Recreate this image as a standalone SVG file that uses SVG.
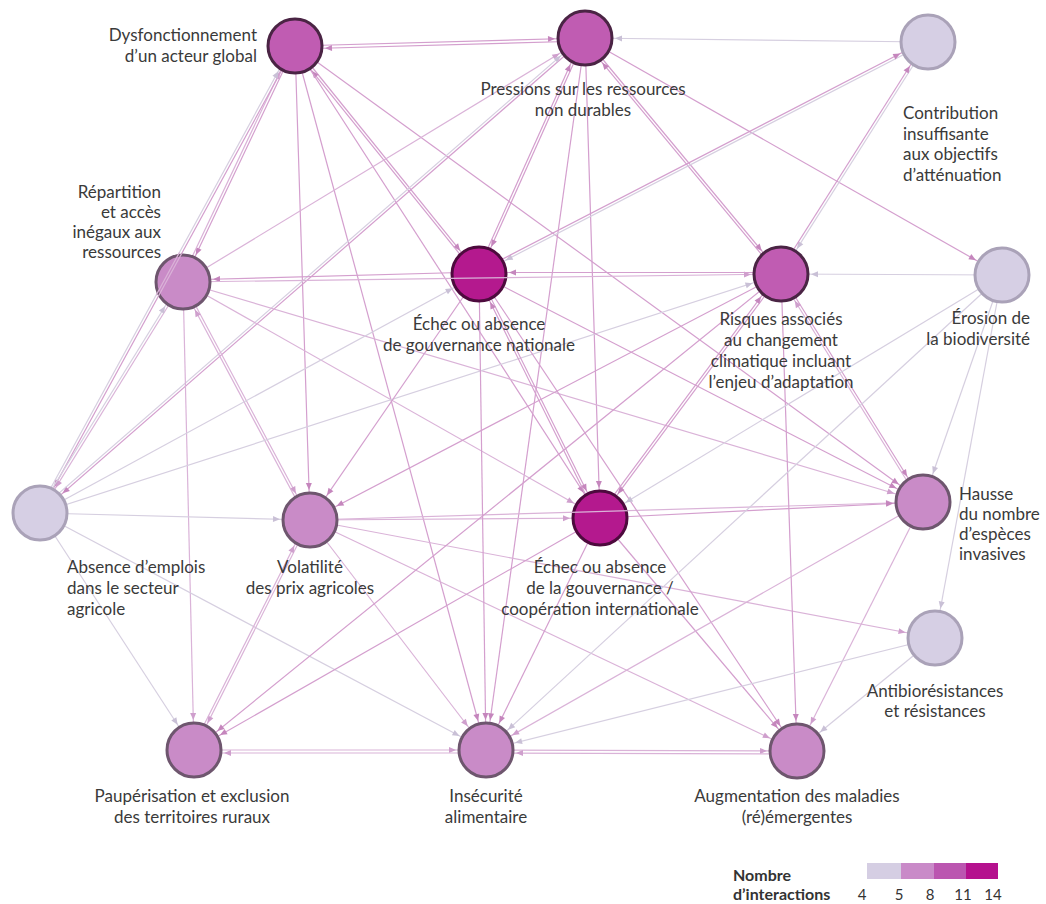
<svg xmlns="http://www.w3.org/2000/svg" width="1046" height="904" viewBox="0 0 1046 904">
<style>
.e1{stroke:#d6cfe0;stroke-width:1.2;fill:none;marker-end:url(#m1)}
.e2{stroke:#dab3d8;stroke-width:1.2;fill:none;marker-end:url(#m2)}
.e3{stroke:#d49fce;stroke-width:1.2;fill:none;marker-end:url(#m3)}
.ov{stroke:#dab3d8;stroke-width:1.2;fill:none}
.n1{fill:#d6cfe4;stroke:#aaa2b8;stroke-width:3}
.n2{fill:#c98bc7;stroke:#6e566e;stroke-width:3}
.n3{fill:#c05cb2;stroke:#4a2444;stroke-width:3}
.n4{fill:#b4198e;stroke:#4d0a3d;stroke-width:3}
text{font-family:Lato,"Open Sans","Liberation Sans",sans-serif;font-size:17px;fill:#3a3a3a}
.s{text-anchor:start}.m{text-anchor:middle}.r{text-anchor:end}
.lg{font-weight:bold;font-size:16px;fill:#333}
.num{font-size:15px;text-anchor:middle;fill:#333}
</style>
<defs>
<marker id="m1" markerUnits="userSpaceOnUse" markerWidth="7" markerHeight="6" refX="37" refY="3" orient="auto" overflow="visible"><path d="M0,0 L7,3 L0,6 z" fill="#c9c0d6"/></marker>
<marker id="m2" markerUnits="userSpaceOnUse" markerWidth="7" markerHeight="6" refX="37" refY="3" orient="auto" overflow="visible"><path d="M0,0 L7,3 L0,6 z" fill="#cf9fcd"/></marker>
<marker id="m3" markerUnits="userSpaceOnUse" markerWidth="7" markerHeight="6" refX="37" refY="3" orient="auto" overflow="visible"><path d="M0,0 L7,3 L0,6 z" fill="#c586bd"/></marker>
<clipPath id="clipE"><circle cx="479" cy="274" r="28.5"/></clipPath>
<clipPath id="clipJ"><circle cx="600" cy="518" r="28.5"/></clipPath>
<clipPath id="clipD"><circle cx="183" cy="282" r="28.5"/></clipPath>
</defs>
<rect width="1046" height="904" fill="#ffffff"/>
<g id="connectors">
<line class="e3" x1="295" y1="46" x2="585" y2="38"/>
<line class="e3" x1="585" y1="38" x2="295" y2="46" transform="translate(0,3)"/>
<line class="e1" x1="928" y1="42" x2="585" y2="38"/>
<line class="e3" x1="295" y1="46" x2="183" y2="282"/>
<line class="e2" x1="183" y1="282" x2="295" y2="46" transform="translate(-2.3,-1.1)"/>
<line class="e3" x1="295" y1="46" x2="40" y2="513"/>
<line class="e1" x1="40" y1="513" x2="295" y2="46" transform="translate(-2.2,-1.2)"/>
<line class="e3" x1="295" y1="46" x2="310" y2="520"/>
<line class="e3" x1="295" y1="46" x2="486" y2="750"/>
<line class="e3" x1="295" y1="46" x2="479" y2="274"/>
<line class="e3" x1="479" y1="274" x2="295" y2="46" transform="translate(-1.9,1.6)"/>
<line class="e3" x1="295" y1="46" x2="600" y2="518"/>
<line class="e3" x1="295" y1="46" x2="923" y2="502"/>
<line class="e2" x1="183" y1="282" x2="585" y2="38"/>
<line class="e3" x1="585" y1="38" x2="40" y2="513"/>
<line class="e1" x1="40" y1="513" x2="585" y2="38" transform="translate(-1.6,-1.9)"/>
<line class="e3" x1="585" y1="38" x2="479" y2="274"/>
<line class="e3" x1="479" y1="274" x2="585" y2="38" transform="translate(-2.3,-1)"/>
<line class="e3" x1="585" y1="38" x2="486" y2="750"/>
<line class="e3" x1="585" y1="38" x2="600" y2="518"/>
<line class="e3" x1="585" y1="38" x2="781" y2="274"/>
<line class="e3" x1="781" y1="274" x2="585" y2="38" transform="translate(-1.9,1.6)"/>
<line class="e3" x1="585" y1="38" x2="1002" y2="275"/>
<line class="e1" x1="928" y1="42" x2="781" y2="274"/>
<line class="e3" x1="781" y1="274" x2="928" y2="42" transform="translate(-2.1,-1.3)"/>
<line class="e1" x1="928" y1="42" x2="479" y2="274"/>
<line class="e3" x1="479" y1="274" x2="928" y2="42" transform="translate(-1.1,-2.2)"/>
<line class="e3" x1="479" y1="274" x2="183" y2="282" transform="translate(0,-2)"/>
<line class="e2" x1="183" y1="282" x2="781" y2="274"/>
<line class="e3" x1="781" y1="274" x2="479" y2="274" transform="translate(0,-1.5)"/>
<line class="e1" x1="1002" y1="275" x2="781" y2="274"/>
<line class="e2" x1="183" y1="282" x2="40" y2="513"/>
<line class="e1" x1="40" y1="513" x2="183" y2="282" transform="translate(-2.1,-1.3)"/>
<line class="e2" x1="183" y1="282" x2="310" y2="520"/>
<line class="e2" x1="310" y1="520" x2="183" y2="282" transform="translate(-2.2,1.2)"/>
<line class="e2" x1="183" y1="282" x2="600" y2="518"/>
<line class="e2" x1="183" y1="282" x2="923" y2="502"/>
<line class="e2" x1="183" y1="282" x2="194" y2="750"/>
<line class="e1" x1="40" y1="513" x2="479" y2="274"/>
<line class="e1" x1="40" y1="513" x2="781" y2="274"/>
<line class="e1" x1="40" y1="513" x2="310" y2="520"/>
<line class="e1" x1="40" y1="513" x2="194" y2="750"/>
<line class="e1" x1="40" y1="513" x2="486" y2="750"/>
<line class="e2" x1="310" y1="520" x2="600" y2="518"/>
<line class="e2" x1="310" y1="520" x2="923" y2="502"/>
<line class="e3" x1="600" y1="518" x2="923" y2="502"/>
<line class="e3" x1="479" y1="274" x2="310" y2="520"/>
<line class="e3" x1="781" y1="274" x2="310" y2="520"/>
<line class="e2" x1="310" y1="520" x2="194" y2="750"/>
<line class="e2" x1="194" y1="750" x2="310" y2="520" transform="translate(-2.2,-1.1)"/>
<line class="e2" x1="310" y1="520" x2="486" y2="750"/>
<line class="e2" x1="310" y1="520" x2="797" y2="751"/>
<line class="e2" x1="310" y1="520" x2="935" y2="638"/>
<line class="e3" x1="479" y1="274" x2="600" y2="518"/>
<line class="e3" x1="600" y1="518" x2="479" y2="274" transform="translate(-2.2,1.1)"/>
<line class="e3" x1="479" y1="274" x2="923" y2="502"/>
<line class="e3" x1="479" y1="274" x2="486" y2="750"/>
<line class="e3" x1="479" y1="274" x2="797" y2="751"/>
<line class="e3" x1="781" y1="274" x2="600" y2="518"/>
<line class="e3" x1="600" y1="518" x2="781" y2="274" transform="translate(-2,-1.5)"/>
<line class="e3" x1="781" y1="274" x2="923" y2="502"/>
<line class="e2" x1="923" y1="502" x2="781" y2="274" transform="translate(-2.1,1.3)"/>
<line class="e3" x1="781" y1="274" x2="194" y2="750"/>
<line class="e3" x1="781" y1="274" x2="797" y2="751"/>
<line class="e1" x1="1002" y1="275" x2="600" y2="518"/>
<line class="e1" x1="1002" y1="275" x2="923" y2="502"/>
<line class="e1" x1="1002" y1="275" x2="935" y2="638"/>
<line class="e1" x1="1002" y1="275" x2="486" y2="750"/>
<line class="e3" x1="600" y1="518" x2="194" y2="750"/>
<line class="e3" x1="600" y1="518" x2="486" y2="750"/>
<line class="e3" x1="600" y1="518" x2="797" y2="751"/>
<line class="e2" x1="923" y1="502" x2="486" y2="750"/>
<line class="e2" x1="923" y1="502" x2="797" y2="751"/>
<line class="e1" x1="935" y1="638" x2="486" y2="750"/>
<line class="e1" x1="935" y1="638" x2="797" y2="751"/>
<line class="e2" x1="194" y1="750" x2="486" y2="750"/>
<line class="e2" x1="486" y1="750" x2="194" y2="750" transform="translate(0,3)"/>
<line class="e2" x1="486" y1="750" x2="797" y2="751"/>
<line class="e2" x1="797" y1="751" x2="486" y2="750" transform="translate(0,3)"/>
</g>
<g id="nodes">
<g id="n-dysfonctionnement"><circle class="n3" cx="295" cy="46" r="27"/><text class="r" x="257" y="41">Dysfonctionnement</text><text class="r" x="257" y="62">d’un acteur global</text></g>
<g id="n-pressions"><circle class="n3" cx="585" cy="38" r="27"/><text class="m" x="583" y="95">Pressions sur les ressources</text><text class="m" x="583" y="116">non durables</text></g>
<g id="n-contribution"><circle class="n1" cx="928" cy="42" r="27"/><text class="s" x="903" y="119">Contribution</text><text class="s" x="903" y="140">insuffisante</text><text class="s" x="903" y="160">aux objectifs</text><text class="s" x="903" y="181">d’atténuation</text></g>
<g id="n-repartition"><circle class="n2" cx="183" cy="282" r="27"/><text class="r" x="161" y="198">Répartition</text><text class="r" x="161" y="218">et accès</text><text class="r" x="161" y="238">inégaux aux</text><text class="r" x="161" y="258">ressources</text></g>
<g id="n-gouv-nationale"><circle class="n4" cx="479" cy="274" r="27"/><text class="m" x="479" y="330">Échec ou absence</text><text class="m" x="479" y="351">de gouvernance nationale</text></g>
<g id="n-risques"><circle class="n3" cx="781" cy="274" r="27"/><text class="m" x="781" y="325">Risques associés</text><text class="m" x="781" y="346">au changement</text><text class="m" x="781" y="367">climatique incluant</text><text class="m" x="781" y="388">l’enjeu d’adaptation</text></g>
<g id="n-erosion"><circle class="n1" cx="1002" cy="275" r="27"/><text class="r" x="1030" y="324">Érosion de</text><text class="r" x="1030" y="345">la biodiversité</text></g>
<g id="n-emplois"><circle class="n1" cx="40" cy="513" r="27"/><text class="s" x="67" y="573">Absence d’emplois</text><text class="s" x="67" y="594">dans le secteur</text><text class="s" x="67" y="615">agricole</text></g>
<g id="n-volatilite"><circle class="n2" cx="310" cy="520" r="27"/><text class="m" x="310" y="573">Volatilité</text><text class="m" x="310" y="594">des prix agricoles</text></g>
<g id="n-gouv-internationale"><circle class="n4" cx="600" cy="518" r="27"/><text class="m" x="600" y="573">Échec ou absence</text><text class="m" x="600" y="594">de la gouvernance /</text><text class="m" x="600" y="615">coopération internationale</text></g>
<g id="n-hausse"><circle class="n2" cx="923" cy="502" r="27"/><text class="s" x="959" y="500">Hausse</text><text class="s" x="959" y="520">du nombre</text><text class="s" x="959" y="540">d’espèces</text><text class="s" x="959" y="560">invasives</text></g>
<g id="n-antibio"><circle class="n1" cx="935" cy="638" r="27"/><text class="m" x="935" y="697">Antibiorésistances</text><text class="m" x="935" y="717">et résistances</text></g>
<g id="n-pauperisation"><circle class="n2" cx="194" cy="750" r="27"/><text class="m" x="192" y="802">Paupérisation et exclusion</text><text class="m" x="192" y="823">des territoires ruraux</text></g>
<g id="n-insecurite"><circle class="n2" cx="486" cy="750" r="27"/><text class="m" x="486" y="802">Insécurité</text><text class="m" x="486" y="823">alimentaire</text></g>
<g id="n-maladies"><circle class="n2" cx="797" cy="751" r="27"/><text class="m" x="797" y="802">Augmentation des maladies</text><text class="m" x="797" y="823">(ré)émergentes</text></g>
</g>
<g id="connectors-over">
<line class="ov" x1="183" y1="282" x2="781" y2="274" clip-path="url(#clipE)"/>
<line class="ov" x1="310" y1="520" x2="923" y2="502" clip-path="url(#clipJ)"/>
<line class="ov" x1="295" y1="46" x2="40" y2="513" clip-path="url(#clipD)"/>
<line class="ov" x1="40" y1="513" x2="295" y2="46" transform="translate(-2.2,-1.2)" clip-path="url(#clipD)"/>
</g>
<g id="legend">
<text class="lg" x="733" y="881">Nombre</text>
<text class="lg" x="733" y="900">d’interactions</text>
<rect x="867" y="863" width="34" height="16" fill="#d5cee3"/>
<rect x="901" y="863" width="33" height="16" fill="#c98ac8"/>
<rect x="934" y="863" width="32" height="16" fill="#bb56b0"/>
<rect x="966" y="863" width="32" height="16" fill="#b5118e"/>
<text class="num" x="862" y="900">4</text>
<text class="num" x="899" y="900">5</text>
<text class="num" x="930" y="900">8</text>
<text class="num" x="963" y="900">11</text>
<text class="num" x="993" y="900">14</text>
</g>
</svg>
